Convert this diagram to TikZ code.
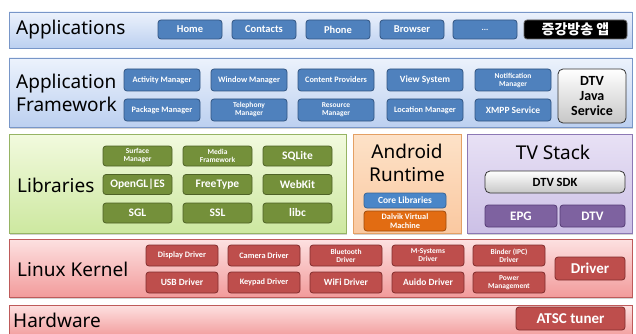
\documentclass[tikz,border=0pt]{standalone}
\usepackage{fontspec}
\setmainfont{Noto Sans}
\newfontfamily\boxfont{Carlito}
\newfontfamily\kofont{Noto Sans CJK KR}
\usetikzlibrary{shadows}

\definecolor{bandblueT}{RGB}{236,242,252}
\definecolor{bandblueB}{RGB}{188,208,240}
\definecolor{bandblueD}{RGB}{120,150,200}
\definecolor{boxblue}{RGB}{79,129,189}
\definecolor{boxblueD}{RGB}{50,85,130}
\definecolor{bandgreenT}{RGB}{242,250,222}
\definecolor{bandgreenB}{RGB}{205,232,160}
\definecolor{bandgreenD}{RGB}{150,180,100}
\definecolor{boxgreen}{RGB}{116,144,58}
\definecolor{boxgreenD}{RGB}{78,98,38}
\definecolor{bandorangeT}{RGB}{253,226,200}
\definecolor{bandorangeB}{RGB}{250,200,160}
\definecolor{bandorangeD}{RGB}{228,160,100}
\definecolor{coreblue}{RGB}{74,134,200}
\definecolor{coreblueD}{RGB}{55,100,150}
\definecolor{dalvik}{RGB}{226,108,18}
\definecolor{dalvikD}{RGB}{160,75,12}
\definecolor{bandpurpleT}{RGB}{232,225,245}
\definecolor{bandpurpleB}{RGB}{204,192,230}
\definecolor{bandpurpleD}{RGB}{140,120,180}
\definecolor{boxpurple}{RGB}{126,98,160}
\definecolor{boxpurpleD}{RGB}{85,60,118}
\definecolor{bandredT}{RGB}{253,225,225}
\definecolor{bandredB}{RGB}{242,155,155}
\definecolor{bandredD}{RGB}{190,90,90}
\definecolor{boxred}{RGB}{190,78,76}
\definecolor{boxredD}{RGB}{130,45,45}

\begin{document}
\begin{tikzpicture}[x=1pt,y=-1pt,
    layer/.style={draw=#1D, line width=0.8pt, top color=#1T, bottom color=#1B,
      anchor=north west, inner sep=0pt, outer sep=0pt,
      drop shadow={shadow xshift=1pt, shadow yshift=-1.5pt, opacity=0.35}},
    biglabel/.style={font=\fontsize{19}{23}\selectfont, text=black, inner sep=0pt},
    box/.style={fill=#1, draw=#1D, line width=0.8pt, rounded corners=3pt,
      inner sep=0pt, align=center, text=white, font=\boxfont\bfseries\fontsize{10.5}{11.5}\selectfont},
    graybox/.style={draw=black!80, line width=0.8pt, rounded corners=5pt,
      top color=white, bottom color=black!22, inner sep=0pt, align=center,
      font=\boxfont\bfseries\fontsize{14}{15}\selectfont},
    big/.style={font=\boxfont\bfseries\fontsize{11.5}{12.5}\selectfont},
    mid/.style={font=\boxfont\bfseries\fontsize{9.5}{10}\selectfont},
    small/.style={font=\boxfont\bfseries\fontsize{8.3}{9}\selectfont},
    tiny/.style={font=\boxfont\bfseries\fontsize{7.5}{8}\selectfont}]
  \useasboundingbox (0,0) rectangle (636,334);

  % layers
  \node[layer=bandblue, minimum width=623pt, minimum height=36pt] (applayer) at (9,12) {};
  \node[layer=bandblue, minimum width=623pt, minimum height=69pt] (fwlayer) at (9,58) {};
  \node[layer=bandgreen, minimum width=337pt, minimum height=99pt] (liblayer) at (9,134) {};
  \node[layer=bandorange, minimum width=108pt, minimum height=99pt] (rtlayer) at (353,134) {};
  \node[layer=bandpurple, minimum width=165pt, minimum height=99pt] (tvlayer) at (467,134) {};
  \node[layer=bandred, minimum width=623pt, minimum height=58pt] (kernlayer) at (9,239) {};
  \node[layer=bandred, minimum width=623pt, minimum height=32pt] (hwlayer) at (9,305) {};

  % layer titles
  \node[biglabel, anchor=west] (applabel) at (16,30) {Applications};
  \node[biglabel, anchor=west, align=left] (fwlabel) at (16,93) {Application\\Framework};
  \node[biglabel, anchor=west] (liblabel) at (17,185) {Libraries};
  \node[biglabel, align=center] (rtlabel) at (407,163) {Android\\Runtime};
  \node[biglabel] (tvlabel) at (553,152) {TV Stack};
  \node[biglabel, anchor=west] (kernlabel) at (17,269) {Linux Kernel};
  \node[biglabel, anchor=west] (hwlabel) at (13,320) {Hardware};

  % applications
  \begin{scope}[every node/.style={box=boxblue, minimum width=64pt, minimum height=19pt}]
    \node (home) at (190,29.5) {Home};
    \node (contacts) at (264,29.5) {Contacts};
    \node (phone) at (338,29.5) {Phone};
    \node (browser) at (412,29.5) {Browser};
    \node[small] (more) at (485,29.5) {...};
  \end{scope}
  \node[fill=black, draw=black!60, line width=0.8pt, rounded corners=3pt, minimum width=103pt,
    minimum height=19pt, inner sep=0pt, text=white, font=\kofont\bfseries\fontsize{14}{15}\selectfont]
    (augapp) at (575.5,29.5) {증강방송 앱};

  % application framework
  \begin{scope}[every node/.style={box=boxblue, small, minimum width=76pt, minimum height=22pt}]
    \node (activity) at (162,80) {Activity Manager};
    \node (window) at (249,80) {Window Manager};
    \node (content) at (336,80) {Content Providers};
    \node[mid] (view) at (425,80) {View System};
    \node[tiny] (notif) at (513,80) {Notification\\Manager};
    \node (package) at (162,110) {Package Manager};
    \node[tiny] (telephony) at (249,110) {Telephony\\Manager};
    \node[tiny] (resource) at (336,110) {Resource\\Manager};
    \node (location) at (425,110) {Location Manager};
    \node[mid] (xmpp) at (513,110) {XMPP Service};
  \end{scope}
  \node[graybox, minimum width=68pt, minimum height=54pt] (dtvjava) at (592,96) {DTV\\Java\\Service};

  % libraries
  \begin{scope}[every node/.style={box=boxgreen, big, minimum width=69pt, minimum height=20pt}]
    \node[tiny] (surface) at (137.5,156) {Surface\\Manager};
    \node[tiny] (media) at (217.5,156) {Media\\Framework};
    \node (sqlite) at (297.5,156) {SQLite};
    \node (opengl) at (137.5,184.5) {OpenGL|ES};
    \node (freetype) at (217.5,184.5) {FreeType};
    \node (webkit) at (297.5,184.5) {WebKit};
    \node (sgl) at (137.5,213) {SGL};
    \node (ssl) at (217.5,213) {SSL};
    \node (libc) at (297.5,213) {libc};
  \end{scope}

  % android runtime
  \node[box=coreblue, mid, minimum width=82pt, minimum height=15pt]
    (corelib) at (405,200.5) {Core Libraries};
  \node[box=dalvik, small, minimum width=82pt, minimum height=20pt]
    (dalvikvm) at (405,221) {Dalvik Virtual\\Machine};

  % tv stack
  \node[graybox, font=\boxfont\bfseries\fontsize{12.5}{13}\selectfont, minimum width=140pt, minimum height=22pt]
    (dtvsdk) at (555,182) {DTV SDK};
  \node[box=boxpurple, font=\boxfont\bfseries\fontsize{13}{14}\selectfont, minimum width=72pt, minimum height=22pt]
    (epg) at (521,216) {EPG};
  \node[box=boxpurple, font=\boxfont\bfseries\fontsize{13}{14}\selectfont, minimum width=65pt, minimum height=22pt]
    (dtv) at (592.5,216) {DTV};

  % linux kernel
  \begin{scope}[every node/.style={box=boxred, small, minimum width=72pt, minimum height=21pt}]
    \node (display) at (182,255.5) {Display Driver};
    \node (camera) at (264,255.5) {Camera Driver};
    \node[tiny] (bluetooth) at (346,255.5) {Bluetooth\\Driver};
    \node[tiny] (msystems) at (428,255.5) {M-Systems\\Driver};
    \node[tiny] (binder) at (509,255.5) {Binder (IPC)\\Driver};
    \node[mid] (usb) at (182,282.5) {USB Driver};
    \node (keypad) at (264,282.5) {Keypad Driver};
    \node[mid] (wifi) at (346,282.5) {WiFi Driver};
    \node[mid] (audio) at (428,282.5) {Auido Driver};
    \node[tiny] (power) at (509,282.5) {Power\\Management};
  \end{scope}
  \node[box=boxred, font=\boxfont\bfseries\fontsize{15}{16}\selectfont, minimum width=70pt, minimum height=23pt]
    (driver) at (590,268.5) {Driver};

  % hardware
  \node[box=boxred, font=\boxfont\bfseries\fontsize{15}{16}\selectfont, minimum width=109pt, minimum height=23pt]
    (atsc) at (570.5,318.5) {ATSC tuner};
\end{tikzpicture}
\end{document}
